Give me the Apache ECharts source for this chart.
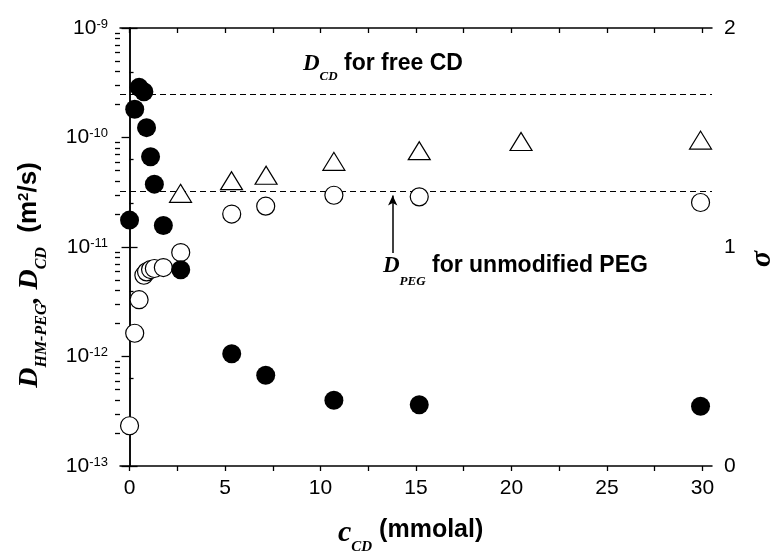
<!DOCTYPE html>
<html>
<head>
<meta charset="utf-8">
<script src="https://cdn.jsdelivr.net/npm/echarts@6/dist/echarts.min.js"></script>
<style>
html, body { margin: 0; padding: 0; background: #fff; }
#main { width: 770px; height: 551px; }
</style>
</head>
<body>
<div id="main"></div>
<script>
// c_CD (mmolal) for the two circle series
const cCD = [0, 0.27, 0.5, 0.75, 0.89, 1.1, 1.3, 1.77, 2.68, 5.35, 7.13, 10.7, 15.17, 29.9];
// filled circles, D_CD (m2/s)
const dCD = [1.76e-11, 1.81e-10, 2.87e-10, 2.62e-10, 1.23e-10, 6.67e-11, 3.75e-11, 1.57e-11,
  6.2e-12, 1.06e-12, 6.73e-13, 3.98e-13, 3.63e-13, 3.51e-13];
// open circles, D_HM-PEG (m2/s)
const dHMPEG = [2.33e-13, 1.63e-12, 3.3e-12, 5.52e-12, 5.93e-12, 6.22e-12, 6.36e-12, 6.49e-12,
  8.9e-12, 2.0e-11, 2.36e-11, 2.97e-11, 2.87e-11, 2.55e-11];
// triangles, sigma (right axis)
const cCDSigma = [2.67, 5.34, 7.15, 10.7, 15.17, 20.5, 29.9];
const sigma = [1.245, 1.303, 1.328, 1.391, 1.44, 1.482, 1.488];

// reference levels
const dFreeCD = 2.48e-10;
const dPEG = 3.26e-11;
// arrow pointing at the PEG line
const arrowX = 13.78;
const arrowFrom = 8.8e-12;
const arrowTo = 2.95e-11;

const xMin = -0.5, xMax = 30.5;
const xTicks = [0, 2.5, 5, 7.5, 10, 12.5, 15, 17.5, 20, 22.5, 25, 27.5, 30];
const xLabels = [0, 5, 10, 15, 20, 25, 30];
const yMajor = [1e-13, 1e-12, 1e-11, 1e-10, 1e-9];
const yMinor = [];
for (let e = -13; e < -9; e++) {
  for (let k = 2; k <= 9; k++) yMinor.push(k * Math.pow(10, e));
}

const SANS = "'Liberation Sans', Arial, sans-serif";
const SERIF = "'Liberation Serif', 'Times New Roman', serif";

const myChart = echarts.init(document.getElementById("main"));

const pairs = (xs, ys) => xs.map((x, i) => [x, ys[i]]);
const hline = (v) => [{ coord: [xMin, v] }, { coord: [xMax, v] }];

// italic bold serif letter, subscript pushed down by padding
const serifTok = (size, padTop) => ({
  fontFamily: SERIF, fontStyle: "italic", fontWeight: "bold", fontSize: size, color: "#000",
  verticalAlign: "top", padding: [padTop || 0, 0, 0, 0],
});
const sansTok = (size, padTop) => ({
  fontFamily: SANS, fontWeight: "bold", fontSize: size, color: "#000",
  verticalAlign: "top", padding: [padTop || 0, 0, 0, 0],
});

myChart.setOption({
  animation: false,
  backgroundColor: "#fff",
  grid: { left: 120, right: 58, top: 28, bottom: 85, containLabel: false },
  xAxis: [
    {
      type: "value", min: xMin, max: xMax, position: "bottom",
      axisLine: { lineStyle: { color: "#000", width: 1.5 } },
      axisTick: { customValues: xTicks, length: 5, inside: false, lineStyle: { color: "#000", width: 1.3 } },
      axisLabel: { customValues: xLabels, color: "#000", fontSize: 21, fontFamily: SANS, margin: 12 },
      splitLine: { show: false },
    },
    {
      type: "value", min: xMin, max: xMax, position: "top",
      axisLine: { lineStyle: { color: "#000", width: 1.5 } },
      axisTick: { customValues: xTicks, length: 5, inside: true, lineStyle: { color: "#000", width: 1.3 } },
      axisLabel: { show: false },
      splitLine: { show: false },
    },
  ],
  yAxis: [
    {
      type: "log", logBase: 10, min: 1e-13, max: 1e-9, position: "left",
      axisLine: { show: true, lineStyle: { color: "#000", width: 1.5 } },
      axisTick: { customValues: yMajor, length: 8, lineStyle: { color: "#000", width: 1.3 } },
      axisLabel: {
        customValues: yMajor,
        margin: 12,
        formatter: (v) => "{a|10}{b|" + Math.round(Math.log10(v)) + "}",
        rich: {
          a: { fontSize: 21, fontFamily: SANS, color: "#000", lineHeight: 21, verticalAlign: "top" },
          b: { fontSize: 13, fontFamily: SANS, color: "#000", lineHeight: 13, verticalAlign: "top" },
        },
      },
      splitLine: { show: false },
    },
    {
      type: "value", min: 0, max: 2, interval: 1, position: "right",
      axisLine: { show: true, lineStyle: { color: "#000", width: 1.5 } },
      axisTick: { length: 8, lineStyle: { color: "#000", width: 1.3 } },
      minorTick: { show: true, splitNumber: 5, length: 4, lineStyle: { color: "#000", width: 1.3 } },
      axisLabel: { color: "#000", fontSize: 21, fontFamily: SANS, margin: 12 },
      splitLine: { show: false },
    },
    {
      // minor ticks of the log axis
      type: "log", logBase: 10, min: 1e-13, max: 1e-9, position: "left",
      axisLine: { show: false },
      axisTick: { customValues: yMinor, length: 5, lineStyle: { color: "#000", width: 1.3 } },
      axisLabel: { show: false },
      splitLine: { show: false },
    },
  ],
  series: [
    {
      name: "D_HM-PEG", type: "scatter", xAxisIndex: 0, yAxisIndex: 0, z: 3,
      symbol: "circle", symbolSize: 18,
      itemStyle: { color: "#fff", borderColor: "#000", borderWidth: 1.2, opacity: 1 },
      data: pairs(cCD, dHMPEG),
      markLine: {
        silent: true, z: 1, symbol: "none", label: { show: false },
        lineStyle: { type: [6, 4], color: "#000", width: 1.1, opacity: 1 },
        data: [hline(dFreeCD), hline(dPEG)],
      },
    },
    {
      name: "D_CD", type: "scatter", xAxisIndex: 0, yAxisIndex: 0, z: 4,
      symbol: "circle", symbolSize: 19,
      itemStyle: { color: "#000", opacity: 1 },
      data: pairs(cCD, dCD),
      markLine: {
        silent: true, z: 1, symbol: ["none", "arrow"], symbolSize: [7, 10], label: { show: false },
        lineStyle: { type: "solid", color: "#000", width: 1.5, opacity: 1 },
        data: [[{ coord: [arrowX, arrowFrom] }, { coord: [arrowX, arrowTo] }]],
      },
    },
    {
      name: "sigma", type: "scatter", xAxisIndex: 0, yAxisIndex: 1, z: 3,
      symbol: "triangle", symbolSize: [22, 18],
      itemStyle: { color: "#fff", borderColor: "#000", borderWidth: 1.2, opacity: 1 },
      data: pairs(cCDSigma, sigma),
    },
  ],
  graphic: [
    {
      type: "text", left: 303, top: 52.5, z: 10,
      style: {
        text: "{d|D}{s|CD}{t| for free CD}",
        rich: { d: serifTok(23), s: serifTok(13, 17.5), t: sansTok(23) },
      },
    },
    {
      type: "text", left: 383, top: 254.5, z: 10,
      style: {
        text: "{d|D}{s|PEG}{t| for unmodified PEG}",
        rich: { d: serifTok(23), s: serifTok(13, 21), t: sansTok(23) },
      },
    },
    {
      type: "text", x: 16, y: 275, rotation: Math.PI / 2, z: 10,
      style: {
        text: "{d|D}{s|HM-PEG}{d|, D}{s|CD}{t|  (m}{p|2}{t|/s)}",
        align: "center", verticalAlign: "top",
        rich: { d: serifTok(28), s: serifTok(16, 18), t: sansTok(26), p: sansTok(15) },
      },
    },
    {
      type: "text", x: 762, y: 259, rotation: Math.PI / 2, z: 10,
      style: {
        text: "σ", align: "center", verticalAlign: "middle",
        font: "italic bold 30px " + SERIF, fill: "#000",
      },
    },
    {
      type: "text", left: 338, top: 518, z: 10,
      style: {
        text: "{c|c}{s|CD}{t| (mmolal)}",
        rich: { c: serifTok(30), s: serifTok(15, 21.5), t: sansTok(25) },
      },
    },
  ],
});
</script>
</body>
</html>
